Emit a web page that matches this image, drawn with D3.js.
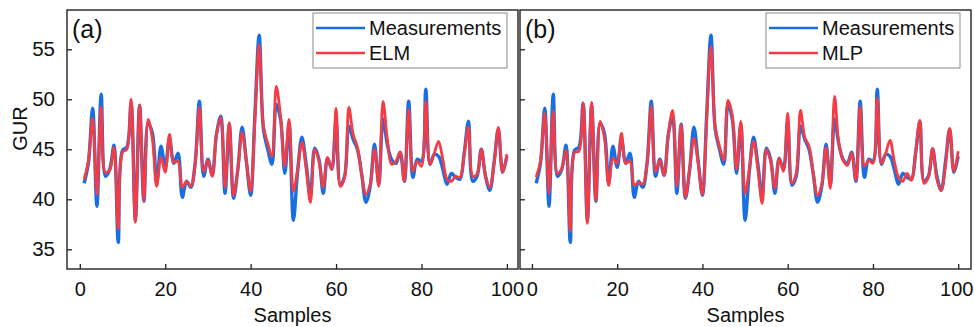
<!DOCTYPE html>
<html><head><meta charset="utf-8">
<script src="https://cdn.jsdelivr.net/npm/d3@7"></script>
<style>body{margin:0;background:#fff}svg{display:block}text{font-family:"Liberation Sans",Arial,sans-serif;fill:#111}</style>
</head><body><svg id="c" width="974" height="327"></svg>
<script>
const samples = d3.range(1, 101);
const measurements = [41.6,43.6,49.1,39.3,50.5,42.3,43.0,45.4,35.7,44.9,45.2,49.6,37.9,49.4,39.8,47.6,46.6,41.6,45.3,43.2,
46.1,43.6,44.6,40.2,41.8,41.2,43.6,49.8,42.3,44.0,42.4,46.5,48.3,40.6,47.5,40.1,43.0,47.2,43.8,40.4,
48.5,56.4,47.0,45.0,43.5,49.5,48.0,42.6,47.5,37.9,42.8,46.2,43.5,40.3,45.1,44.0,40.6,44.1,43.0,47.8,
41.4,42.3,47.3,46.0,45.0,42.5,39.7,41.3,45.5,41.5,48.0,45.5,44.0,43.6,44.7,41.8,49.8,42.2,44.0,43.8,
51.0,43.5,44.5,44.3,43.0,41.5,42.6,42.2,42.0,44.6,47.8,41.8,42.3,45.0,42.3,40.9,43.7,47.0,42.7,44.3];
const elm = [42.0,43.8,48.1,40.5,49.2,42.7,42.9,45.2,37.0,44.7,45.0,50.0,37.7,49.4,39.9,48.0,46.0,41.3,44.2,42.7,
46.5,43.7,43.8,41.2,41.8,41.3,43.5,49.2,42.8,43.9,42.3,46.5,48.2,41.2,47.7,40.4,43.0,46.7,43.8,40.8,
48.0,55.5,47.3,45.6,44.3,51.3,48.3,43.3,48.0,40.8,43.0,45.7,43.0,39.7,45.0,43.8,41.2,44.2,43.0,49.1,
41.3,42.2,49.2,46.5,45.2,42.5,40.5,41.5,45.0,41.3,49.8,46.0,43.5,43.8,44.7,41.8,49.0,42.8,43.8,43.3,
49.8,43.5,44.6,45.8,44.0,42.0,41.8,42.3,42.2,44.5,47.2,42.3,42.5,45.0,42.3,41.2,43.5,47.2,42.7,44.5];
const mlp = [42.2,43.8,48.6,40.6,48.8,42.6,43.1,44.9,36.8,44.7,44.8,49.6,37.6,49.7,39.9,47.8,46.2,41.4,44.1,43.6,
46.6,43.6,43.8,41.4,41.7,41.5,43.5,49.3,42.8,43.9,42.4,46.5,48.9,41.3,47.5,40.2,43.0,46.1,43.6,40.5,
48.0,55.3,47.2,45.3,43.9,49.9,48.4,43.0,47.8,40.6,43.0,45.8,43.0,39.6,45.0,43.8,41.1,44.1,42.8,48.6,
41.6,42.6,48.9,46.2,45.3,42.6,40.4,41.5,45.2,41.1,50.3,45.6,43.9,43.4,44.6,41.9,49.3,43.3,43.9,43.6,
50.1,43.6,44.6,45.9,43.8,42.2,41.8,42.6,41.9,44.6,47.9,41.6,42.2,45.1,42.0,40.9,43.3,47.1,42.8,44.8];
const xTicks = [0, 20, 40, 60, 80, 100];
const yTicks = [35, 40, 45, 50, 55];
const panelLabels = ["(a)", "(b)"];
const modelNames = ["ELM", "MLP"];
const seriesName = "Measurements";

const BLUE = "#1a6fe0", RED = "#f23c46";
const svg = d3.select("#c");
const plotTop = 10, plotBottom = 269;
const panels = [
  {x0: 67, x1: 518, dom: [-3, 102.6], pred: elm, showY: true},
  {x0: 520, x1: 971, dom: [-2.8, 103], pred: mlp, showY: false}
];
const y = d3.scaleLinear().domain([33.03, 58.93]).range([plotBottom, plotTop]);

panels.forEach((p, k) => {
  const x = d3.scaleLinear().domain(p.dom).range([p.x0, p.x1]);
  const g = svg.append("g");
  const line = d3.line().x((d, i) => x(samples[i])).y(d => y(d)).curve(d3.curveCatmullRom.alpha(0.5));
  g.append("path").datum(measurements).attr("d", line).attr("fill", "none")
    .attr("stroke", BLUE).attr("stroke-width", 3.4).attr("stroke-linejoin", "round");
  g.append("path").datum(p.pred).attr("d", line).attr("fill", "none")
    .attr("stroke", RED).attr("stroke-width", 2.8).attr("stroke-linejoin", "round");

  const xa = g.append("g").attr("transform", `translate(0,${plotBottom})`)
    .call(d3.axisBottom(x).tickValues(xTicks).tickSizeInner(-5).tickSizeOuter(0).tickPadding(13));
  xa.select(".domain").remove();
  xa.selectAll("line").attr("stroke", "#222").attr("stroke-width", 1.3);
  xa.selectAll("text").attr("font-size", 20).attr("font-family", "Liberation Sans, Arial, sans-serif").attr("fill", "#111");
  if (k === 1) xa.selectAll("text").filter(d => d === 100).attr("dx", -2);

  const ya = g.append("g").attr("transform", `translate(${p.x0},0)`)
    .call(d3.axisLeft(y).tickValues(yTicks).tickSizeInner(-5).tickSizeOuter(0).tickPadding(12)
      .tickFormat(p.showY ? d3.format("d") : () => ""));
  ya.select(".domain").remove();
  ya.selectAll("line").attr("stroke", "#222").attr("stroke-width", 1.3);
  ya.selectAll("text").attr("font-size", 20.5).attr("font-family", "Liberation Sans, Arial, sans-serif").attr("fill", "#111");

  g.append("rect").attr("x", p.x0).attr("y", plotTop).attr("width", p.x1 - p.x0).attr("height", plotBottom - plotTop)
    .attr("fill", "none").attr("stroke", "#222").attr("stroke-width", 1.4);

  g.append("text").attr("x", p.x0 + 5).attr("y", 38).attr("font-size", 25).text(panelLabels[k]);

  g.append("text").attr("x", (p.x0 + p.x1) / 2).attr("y", 322).attr("text-anchor", "middle")
    .attr("font-size", 20).text("Samples");

  const lx = p.x1 - 205, ly = 13;
  const lg = g.append("g");
  lg.append("rect").attr("x", lx).attr("y", ly).attr("width", 194).attr("height", 55)
    .attr("fill", "#fff").attr("stroke", "#888").attr("stroke-width", 1);
  [[seriesName, BLUE], [modelNames[k], RED]].forEach((e, j) => {
    const yy = ly + 15 + j * 25;
    lg.append("line").attr("x1", lx + 3).attr("x2", lx + 52).attr("y1", yy).attr("y2", yy)
      .attr("stroke", e[1]).attr("stroke-width", 2.6);
    lg.append("text").attr("x", lx + 56).attr("y", yy + 7).attr("font-size", 20).text(e[0]);
  });
});

svg.append("text").attr("transform", "translate(26.5,128.5) rotate(-90)").attr("text-anchor", "middle")
  .attr("font-size", 20).text("GUR");
</script></body></html>
